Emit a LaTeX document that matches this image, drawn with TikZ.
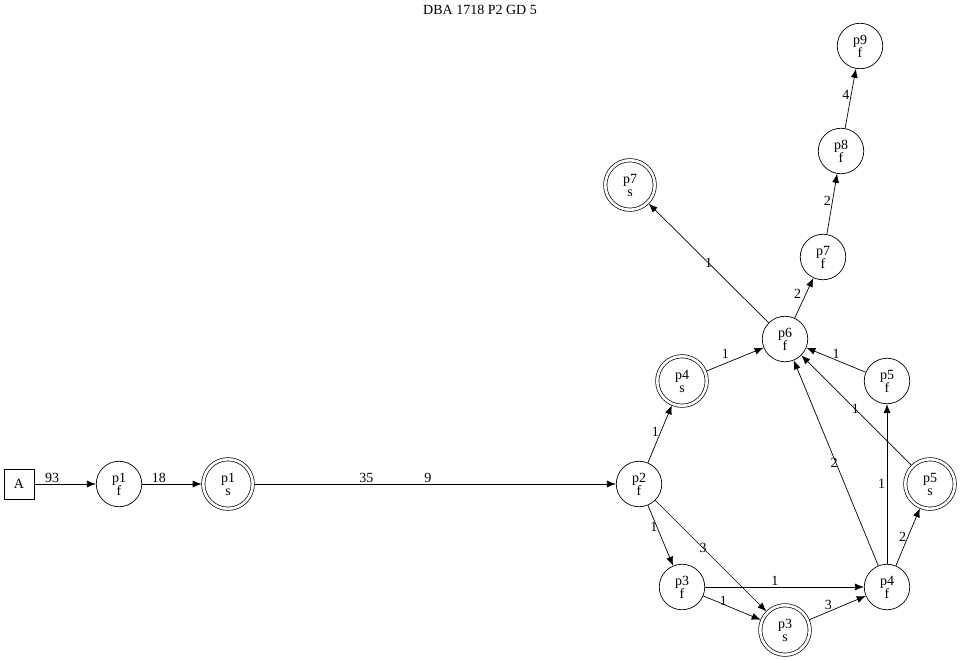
\documentclass[tikz,border=0pt]{standalone}
\usepackage{fontspec}
\setmainfont{Liberation Serif}
\usetikzlibrary{arrows.meta}

\begin{document}
\begin{tikzpicture}[x=1pt,y=-1pt,font=\fontsize{14}{14}\selectfont,
  st/.style={draw,circle,line width=0.7pt,minimum size=45.5pt,inner sep=0pt,
    align=center,font=\fontsize{14}{13}\selectfont},
  fin/.style={st,double,double distance=2.6pt,minimum size=49.5pt,outer sep=1.6pt},
  edge/.style={line width=0.7pt,-{Latex[length=9pt,width=7pt]}},
  lbl/.style={inner sep=1.5pt}]
  \path[use as bounding box] (0,0) rectangle (960,659);
  \node (title) at (480,10) {DBA 1718 P2 GD 5};

  \node[draw,line width=0.7pt,minimum size=30pt,inner sep=0pt] (A) at (19,484) {A};
  \node[st] (p1f) at (119,484) {p1\\f};
  \node[fin] (p1s) at (228,484) {p1\\s};
  \node[st] (p2f) at (639,484) {p2\\f};
  \node[fin] (p4s) at (682,381) {p4\\s};
  \node[st] (p3f) at (682,587) {p3\\f};
  \node[fin] (p3s) at (785,630) {p3\\s};
  \node[st] (p4f) at (887,587) {p4\\f};
  \node[fin] (p5s) at (930,484) {p5\\s};
  \node[st] (p5f) at (887,381) {p5\\f};
  \node[st] (p6f) at (785,339) {p6\\f};
  \node[fin] (p7s) at (630,185) {p7\\s};
  \node[st] (p7f) at (823,257) {p7\\f};
  \node[st] (p8f) at (841,151) {p8\\f};
  \node[st] (p9f) at (860,46) {p9\\f};

  \draw[edge] (A) -- node[lbl,pos=.29,above] {93} (p1f);
  \draw[edge] (p1f) -- node[lbl,pos=.28,above] {18} (p1s);
  \draw[edge] (p1s) -- node[lbl,pos=.31,above] {35} node[lbl,pos=.48,above] {9} (p2f);
  \draw[edge] (p2f) -- node[lbl,pos=.54,left] {1} (p4s);
  \draw[edge] (p4s) -- node[lbl,pos=.33,above,yshift=3pt] {1} (p6f);
  \draw[edge] (p6f) -- node[lbl,pos=.5] {1} (p7s);
  \draw[edge] (p6f) -- node[lbl,pos=.6,left,xshift=-3pt] {2} (p7f);
  \draw[edge] (p7f) -- node[lbl,pos=.56,left] {2} (p8f);
  \draw[edge] (p8f) -- node[lbl,pos=.56,left] {4} (p9f);
  \draw[edge] (p5f) -- node[lbl,pos=.5,above] {1} (p6f);
  \draw[edge] (p5s) -- node[lbl,pos=.51] {1} (p6f);
  \draw[edge] (p4f) -- node[lbl,pos=.5,xshift=-2pt] {2} (p6f);
  \draw[edge] (p4f) -- node[lbl,pos=.5,left] {1} (p5f);
  \draw[edge] (p4f) -- node[lbl,pos=.5,left] {2} (p5s);
  \draw[edge] (p2f) -- node[lbl,pos=.36,xshift=-3pt] {1} (p3f);
  \draw[edge] (p2f) -- node[lbl,pos=.43] {3} (p3s);
  \draw[edge] (p3f) -- node[lbl,pos=.44,above] {1} (p4f);
  \draw[edge] (p3f) -- node[lbl,pos=.35,yshift=3pt] {1} (p3s);
  \draw[edge] (p3s) -- node[lbl,pos=.34,above] {3} (p4f);
\end{tikzpicture}
\end{document}
